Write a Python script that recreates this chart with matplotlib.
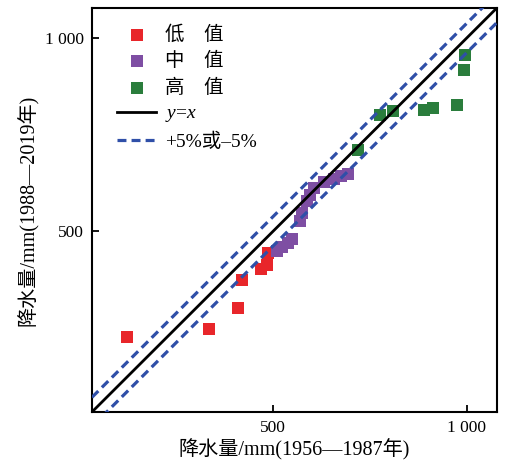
import matplotlib
matplotlib.use("Agg")
import matplotlib.pyplot as plt
import numpy as np

plt.rcParams['font.family'] = ['Liberation Serif', 'Noto Sans CJK SC', 'DejaVu Sans']
plt.rcParams['mathtext.fontset'] = 'custom'
plt.rcParams['mathtext.it'] = 'Liberation Serif:italic'
plt.rcParams['mathtext.rm'] = 'Liberation Serif'

# precipitation (mm): 1956-1987 vs 1988-2019
low_x = [122, 334, 409, 420, 469, 484, 487]
low_y = [226, 246, 300, 374, 403, 413, 444]

mid_x = [510, 523, 539, 549, 570, 575, 588, 596, 606, 632, 658, 676, 694]
mid_y = [449, 459, 469, 479, 526, 546, 577, 595, 613, 628, 636, 644, 649]

high_x = [720, 777, 811, 891, 914, 974, 992, 997]
high_y = [710, 800, 810, 815, 818, 828, 918, 956]

band = 38  # offset of the dashed lines
lims = [32, 1078]
ticks = [500, 1000]
tick_labels = ['500', '1 000']

fig = plt.figure(figsize=(5.08, 4.69), dpi=100)
ax = fig.add_axes([0.181, 0.1215, 0.797, 0.8615])

ms = 78
ax.scatter(low_x, low_y, marker='s', s=ms, color='#e8262a', linewidths=0, label='低\u3000值', zorder=3)
ax.scatter(mid_x, mid_y, marker='s', s=ms, color='#7e4ea3', linewidths=0, label='中\u3000值', zorder=3)
ax.scatter(high_x, high_y, marker='s', s=ms, color='#2a7d3c', linewidths=0, label='高\u3000值', zorder=3)

xx = np.array(lims)
ax.plot(xx, xx, color='black', lw=2, label='$y$=$x$', zorder=4)
ax.plot(xx, xx + band, color='#2f4fa8', lw=2.3, ls=(0, (2.8, 1.6)), label='+5%或–5%', zorder=4)
ax.plot(xx, xx - band, color='#2f4fa8', lw=2.3, ls=(0, (2.8, 1.6)), zorder=4)

ax.set_xlim(lims)
ax.set_ylim(lims)
ax.set_xticks(ticks)
ax.set_xticklabels(tick_labels)
ax.set_yticks(ticks)
ax.set_yticklabels(tick_labels)
ax.tick_params(direction='in', length=5, width=1.3, labelsize=12.5, pad=6)
for s in ax.spines.values():
    s.set_linewidth(1.5)

ax.set_xlabel('降水量/mm(1956—1987年)', fontsize=14.5, labelpad=2)
ax.set_ylabel('降水量/mm(1988—2019年)', fontsize=14.5, labelpad=4)

ax.legend(loc='upper left', bbox_to_anchor=(0.015, 1.005), frameon=False, fontsize=14,
          handlelength=2.0, handletextpad=0.45, labelspacing=0.42, borderaxespad=0.6)

fig.savefig('out.png', dpi=100)
